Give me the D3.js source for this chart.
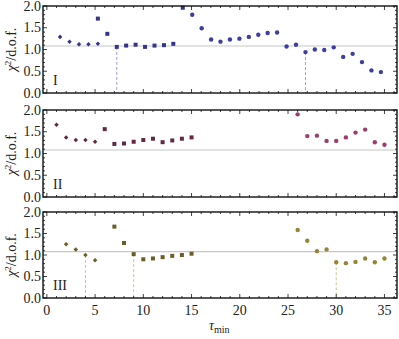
<!DOCTYPE html>
<html lang="en">
<head>
    <meta charset="UTF-8">
    <title>chi2 per dof vs tau_min</title>
    <style>
        body { margin: 0; background: #fff; }
        svg { display: block; }
        text { font-family: "Liberation Serif", "DejaVu Serif", serif; fill: #222; }
        .frame { fill: none; stroke: #111; stroke-width: 1.4px; }
        .tick { stroke: #111; stroke-width: 0.8px; }
        .ref { stroke: #c8c8c8; stroke-width: 1.2px; }
    </style>
    <script src="https://d3js.org/d3.v7.min.js"></script>
</head>
<body>
    <div id="graph"></div>
    <script>
        // ---- data ----
        const xTicks = [0, 5, 10, 15, 20, 25, 30, 35];
        const yTicks = [0.0, 0.5, 1.0, 1.5, 2.0];
        const refLevel = 1.08;
        const panelNames = ["I", "II", "III"];

        // panel I
        const tauI_d = [1.37, 2.35, 3.33, 4.31, 5.29];
        const chiI_d = [1.29, 1.18, 1.12, 1.12, 1.13];
        const tauI_s = [5.29, 6.27, 7.25, 8.22, 9.20, 10.18, 11.16, 12.14, 13.11, 14.09];
        const chiI_s = [1.71, 1.36, 1.06, 1.09, 1.11, 1.06, 1.09, 1.10, 1.13, 1.96];
        const tauI_c = [15.07, 16.05, 17.03, 18.00, 18.98, 19.96, 20.94, 21.92, 22.89, 23.87, 24.85,
                        25.83, 26.81, 27.78, 28.76, 29.74, 30.72, 31.70, 32.67, 33.65, 34.63];
        const chiI_c = [1.80, 1.49, 1.23, 1.18, 1.23, 1.25, 1.29, 1.34, 1.38, 1.39, 1.07,
                        1.11, 0.94, 1.00, 0.99, 1.05, 0.83, 0.90, 0.71, 0.52, 0.48];
        const dropI = [7.25, 26.81];

        // panel II
        const tauII_d = [1, 2, 3, 4, 5];
        const chiII_d = [1.66, 1.37, 1.31, 1.31, 1.27];
        const tauII_s = [6, 7, 8, 9, 10, 11, 12, 13, 14, 15];
        const chiII_s = [1.56, 1.22, 1.23, 1.27, 1.31, 1.34, 1.26, 1.30, 1.34, 1.37];
        const tauII_c = [26, 27, 28, 29, 30, 31, 32, 33, 34, 35];
        const chiII_c = [1.90, 1.40, 1.41, 1.29, 1.29, 1.37, 1.48, 1.55, 1.26, 1.20];
        const dropII = [];

        // panel III
        const tauIII_d = [2, 3, 4, 5];
        const chiIII_d = [1.25, 1.13, 1.00, 0.88];
        const tauIII_s = [7, 8, 9, 10, 11, 12, 13, 14, 15];
        const chiIII_s = [1.66, 1.28, 1.02, 0.90, 0.92, 0.95, 0.98, 1.00, 1.03];
        const tauIII_c = [26, 27, 28, 29, 30, 31, 32, 33, 34, 35];
        const chiIII_c = [1.58, 1.33, 1.09, 1.13, 0.83, 0.81, 0.84, 0.92, 0.83, 0.92];
        const dropIII = [4, 9, 30];

        const zip = (xs, ys) => xs.map((x, i) => ({ x: x, y: ys[i] }));

        const panels = [
            { name: panelNames[0], top: 6, bottom: 93,
              dia: zip(tauI_d, chiI_d), sq: zip(tauI_s, chiI_s), circ: zip(tauI_c, chiI_c), drops: dropI,
              dark: "#35358c", light: "#3d3da3", dash: "#9c9cd2" },
            { name: panelNames[1], top: 110, bottom: 197,
              dia: zip(tauII_d, chiII_d), sq: zip(tauII_s, chiII_s), circ: zip(tauII_c, chiII_c), drops: dropII,
              dark: "#642844", light: "#9c3d6c", dash: "#d0a0b8" },
            { name: panelNames[2], top: 212, bottom: 298,
              dia: zip(tauIII_d, chiIII_d), sq: zip(tauIII_s, chiIII_s), circ: zip(tauIII_c, chiIII_c), drops: dropIII,
              dark: "#6a5e26", light: "#958536", dash: "#d2c490" }
        ];

        const width = 399, height = 339;
        const left = 43, right = 397;

        const svg = d3.select("#graph").append("svg")
            .attr("width", width)
            .attr("height", height);

        const xScale = d3.scaleLinear().domain([-0.4, 36.3]).range([left, right]);
        const xMinor = d3.range(0, 37, 1);
        const yMinor = d3.range(0, 2.001, 0.1);

        panels.forEach((p, pi) => {
            const yScale = d3.scaleLinear().domain([0, 2]).range([p.bottom, p.top]);
            const g = svg.append("g");
            const all = p.dia.concat(p.sq, p.circ);

            // reference line
            g.append("line")
                .attr("class", "ref")
                .attr("x1", left).attr("x2", right)
                .attr("y1", yScale(refLevel)).attr("y2", yScale(refLevel));

            // dashed drop lines
            g.selectAll(".drop")
                .data(p.drops)
                .enter().append("line")
                .attr("x1", d => xScale(d)).attr("x2", d => xScale(d))
                .attr("y1", d => yScale(all.find(q => Math.abs(q.x - d) < 0.01).y))
                .attr("y2", p.bottom)
                .attr("stroke", p.dash)
                .attr("stroke-width", 1)
                .attr("stroke-dasharray", "3,2");

            // ticks on all four sides
            xMinor.forEach(t => {
                const len = t % 5 === 0 ? 4 : 2;
                g.append("line").attr("class", "tick")
                    .attr("x1", xScale(t)).attr("x2", xScale(t))
                    .attr("y1", p.bottom).attr("y2", p.bottom - len);
                g.append("line").attr("class", "tick")
                    .attr("x1", xScale(t)).attr("x2", xScale(t))
                    .attr("y1", p.top).attr("y2", p.top + len);
            });
            yMinor.forEach((t, i) => {
                const len = i % 5 === 0 ? 4 : 2;
                g.append("line").attr("class", "tick")
                    .attr("x1", left).attr("x2", left + len)
                    .attr("y1", yScale(t)).attr("y2", yScale(t));
                g.append("line").attr("class", "tick")
                    .attr("x1", right).attr("x2", right - len)
                    .attr("y1", yScale(t)).attr("y2", yScale(t));
            });

            // y tick labels
            g.selectAll(".ylab")
                .data(yTicks)
                .enter().append("text")
                .attr("x", left - 2)
                .attr("y", d => yScale(d) + 4.5)
                .attr("text-anchor", "end")
                .style("font-size", "14px")
                .text(d => d.toFixed(1));

            // y axis title
            const ym = (p.top + p.bottom) / 2;
            const yt = g.append("text")
                .attr("transform", `translate(16,${ym}) rotate(-90)`)
                .attr("text-anchor", "middle")
                .style("font-size", "14px");
            yt.append("tspan").style("font-style", "italic").text("\u03C7");
            yt.append("tspan").attr("dy", -5).style("font-size", "9px").text("2");
            yt.append("tspan").attr("dy", 5).text("/d.o.f.");

            // panel label
            g.append("text")
                .attr("x", 53)
                .attr("y", p.bottom - 8)
                .style("font-size", "14px")
                .text(p.name);

            // markers
            g.selectAll(".dia")
                .data(p.dia)
                .enter().append("rect")
                .attr("x", -1.6).attr("y", -1.6)
                .attr("width", 3.2).attr("height", 3.2)
                .attr("transform", d => `translate(${xScale(d.x)},${yScale(d.y)}) rotate(45)`)
                .attr("fill", p.dark);

            g.selectAll(".sq")
                .data(p.sq)
                .enter().append("rect")
                .attr("x", d => xScale(d.x) - 2)
                .attr("y", d => yScale(d.y) - 2)
                .attr("width", 4)
                .attr("height", 4)
                .attr("fill", p.dark);

            g.selectAll(".circ")
                .data(p.circ)
                .enter().append("circle")
                .attr("cx", d => xScale(d.x))
                .attr("cy", d => yScale(d.y))
                .attr("r", 2.2)
                .attr("fill", p.light);

            // frame
            g.append("rect")
                .attr("class", "frame")
                .attr("x", left).attr("y", p.top)
                .attr("width", right - left).attr("height", p.bottom - p.top);

            // x tick labels only on the bottom panel
            if (pi === panels.length - 1) {
                g.selectAll(".xlab")
                    .data(xTicks)
                    .enter().append("text")
                    .attr("x", d => xScale(d))
                    .attr("y", p.bottom + 17)
                    .attr("text-anchor", "middle")
                    .style("font-size", "14px")
                    .text(d => d);
            }
        });

        // x axis title
        const xt = svg.append("text")
            .attr("x", 209)
            .attr("y", 330);
        xt.append("tspan").style("font-style", "italic").style("font-size", "14px").text("\u03C4");
        xt.append("tspan").attr("dy", 3).style("font-size", "10px").text("min");
    </script>
</body>
</html>
